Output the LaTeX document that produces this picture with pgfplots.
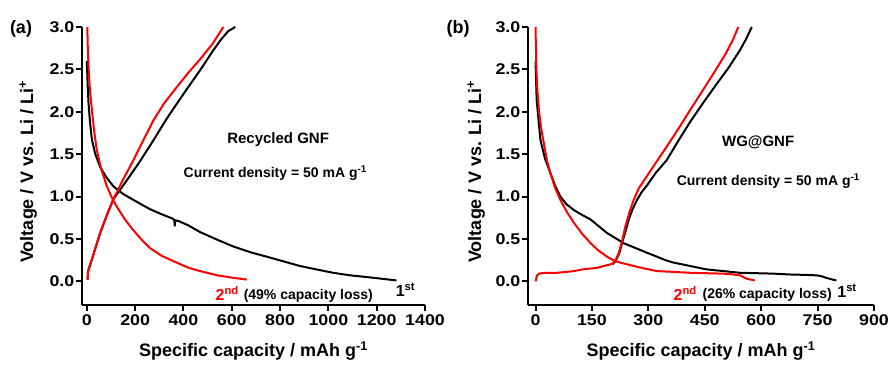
\documentclass[border=0pt]{standalone}
\usepackage{fontspec}
\setmainfont{Liberation Sans}
\newfontfamily\tickfont[FakeStretch=1.15]{Liberation Sans}
\usepackage{pgfplots}
\pgfplotsset{compat=1.18}
\definecolor{myred}{RGB}{255,0,0}
\pgfplotsset{
 myaxis/.style={
  scale only axis, height=278pt,
  axis x line*=bottom, axis y line*=left,
  axis line style={line width=2.5pt},
  ymin=-0.28, ymax=3.0, ytick={0,0.5,1.0,1.5,2.0,2.5,3.0},
  /pgf/number format/assume math mode=true,
  /pgf/number format/1000 sep={},
  yticklabel style={/pgf/number format/fixed, /pgf/number format/fixed zerofill, /pgf/number format/precision=1, font=\tickfont\fontsize{15.5}{15.5}\selectfont\bfseries, inner sep=1.5pt},
  xticklabel style={font=\tickfont\fontsize{15.5}{15.5}\selectfont\bfseries},
  tick style={line width=2pt, black},
  tick align=outside, major tick length=6pt,
  clip=false,
  every axis plot/.append style={line width=2pt, no markers},
  ylabel={Voltage / V vs. Li / Li\textsuperscript{+}},
  xlabel={Specific capacity / mAh g\textsuperscript{-1}},
  label style={font=\fontsize{18}{18}\selectfont\bfseries},
  xlabel style={at={(axis description cs:0.5,-0.165)}, anchor=center},
 }
}
\begin{document}
\begin{tikzpicture}
\begin{axis}[myaxis, at={(82pt,59pt)}, anchor=south west, width=343pt,
  xmin=-20, xmax=1400, xtick={0,200,...,1400},
  ylabel style={at={(axis description cs:-0.157,0.48)}, anchor=center}]
\addplot[black] coordinates {(0,2.6)(3,2.35)(7,2.1)(13,1.88)(21,1.67)(35,1.5)(55,1.35)(80,1.23)(110,1.12)(150,1.03)(193,0.96)(230,0.9)(262,0.85)(310,0.79)(355,0.74)(362,0.72)(364,0.65)(366,0.72)(380,0.71)(420,0.66)(469,0.58)(540,0.49)(607,0.41)(680,0.34)(745,0.29)(820,0.23)(883,0.18)(950,0.14)(1020,0.10)(1090,0.07)(1158,0.05)(1220,0.03)(1282,0.01)};
\addplot[black] coordinates {(3,0.02)(5,0.12)(20,0.25)(55,0.57)(83,0.78)(110,0.97)(138,1.08)(180,1.25)(221,1.42)(275,1.66)(331,1.92)(400,2.21)(469,2.49)(520,2.71)(552,2.84)(585,2.95)(614,3.0)};
\addplot[myred] coordinates {(3,0.02)(5,0.12)(20,0.25)(55,0.57)(83,0.78)(110,0.97)(150,1.2)(193,1.43)(235,1.67)(276,1.9)(320,2.1)(372,2.29)(420,2.46)(469,2.62)(520,2.8)(565,3.0)};
\addplot[myred] coordinates {(2,3.0)(4,2.75)(7,2.53)(13,2.25)(21,2.02)(30,1.78)(41,1.55)(60,1.32)(83,1.12)(103,0.99)(124,0.88)(160,0.72)(193,0.6)(230,0.48)(262,0.39)(310,0.3)(372,0.22)(420,0.16)(469,0.12)(540,0.07)(607,0.04)(662,0.02)};
\node[font=\fontsize{15}{15}\selectfont\bfseries] at (axis cs:792,1.67) {Recycled GNF};
\node[font=\fontsize{14}{14}\selectfont\bfseries] at (axis cs:780,1.28) {Current density = 50 mA g\textsuperscript{-1}};
\node[font=\fontsize{16}{16}\selectfont\bfseries, text=myred] at (axis cs:581,-0.14) {2\textsuperscript{nd}};
\node[font=\fontsize{14}{14}\selectfont\bfseries] at (axis cs:917,-0.175) {(49\% capacity loss)};
\node[font=\fontsize{16}{16}\selectfont\bfseries] at (axis cs:1319,-0.1) {1\textsuperscript{st}};
\end{axis}
\begin{axis}[myaxis, at={(528pt,59pt)}, anchor=south west, width=346pt,
  xmin=-20, xmax=900, xtick={0,150,...,900},
  ylabel style={at={(axis description cs:-0.15,0.48)}, anchor=center}]
\addplot[black] coordinates {(0,2.6)(3,2.14)(8,1.9)(13,1.67)(25,1.45)(40,1.27)(52,1.13)(66,1.0)(82,0.91)(102,0.84)(125,0.78)(146,0.73)(168,0.65)(190,0.57)(212,0.51)(234,0.45)(256,0.41)(278,0.37)(300,0.33)(323,0.29)(345,0.25)(367,0.22)(390,0.2)(411,0.18)(433,0.16)(455,0.14)(500,0.12)(544,0.10)(590,0.095)(632,0.09)(676,0.08)(720,0.075)(747,0.07)(760,0.06)(773,0.04)(790,0.02)(800,0.01)};
\addplot[black] coordinates {(205,0.2)(212,0.235)(222,0.32)(230,0.45)(240,0.6)(248,0.73)(258,0.85)(270,0.96)(282,1.05)(296,1.13)(320,1.28)(349,1.43)(380,1.66)(411,1.88)(445,2.1)(482,2.33)(515,2.53)(544,2.73)(560,2.86)(575,3.0)};
\addplot[myred] coordinates {(0,0.0)(4,0.07)(10,0.09)(22,0.10)(57,0.10)(80,0.11)(102,0.12)(125,0.14)(146,0.15)(165,0.16)(181,0.18)(200,0.2)(208,0.22)(215,0.27)(221,0.33)(230,0.47)(239,0.65)(250,0.82)(261,0.96)(275,1.1)(296,1.24)(320,1.4)(349,1.59)(380,1.8)(411,2.02)(440,2.22)(473,2.45)(505,2.68)(525,2.85)(539,3.0)};
\addplot[myred] coordinates {(0,3.0)(2,2.53)(5,2.25)(9,2.02)(15,1.8)(22,1.63)(30,1.43)(40,1.27)(52,1.1)(66,0.96)(83,0.82)(102,0.69)(124,0.56)(146,0.45)(168,0.36)(190,0.29)(210,0.24)(225,0.22)(261,0.18)(290,0.15)(323,0.12)(370,0.11)(411,0.10)(455,0.095)(499,0.09)(525,0.08)(544,0.07)(561,0.03)(583,0.01)};
\node[font=\fontsize{15}{15}\selectfont\bfseries] at (axis cs:592,1.64) {WG@GNF};
\node[font=\fontsize{14}{14}\selectfont\bfseries] at (axis cs:619,1.18) {Current density = 50 mA g\textsuperscript{-1}};
\node[font=\fontsize{16}{16}\selectfont\bfseries, text=myred] at (axis cs:398,-0.14) {2\textsuperscript{nd}};
\node[font=\fontsize{14}{14}\selectfont\bfseries] at (axis cs:616,-0.155) {(26\% capacity loss)};
\node[font=\fontsize{16}{16}\selectfont\bfseries, anchor=west, inner sep=0pt] at (axis cs:802,-0.11) {1\textsuperscript{st}};
\end{axis}
\node[font=\fontsize{18}{18}\selectfont\bfseries] at (21pt,335pt) {(a)};
\node[font=\fontsize{18}{18}\selectfont\bfseries] at (458pt,335pt) {(b)};
\pgfresetboundingbox
\path (0pt,0pt) rectangle (890pt,364pt);
\end{tikzpicture}
\end{document}
